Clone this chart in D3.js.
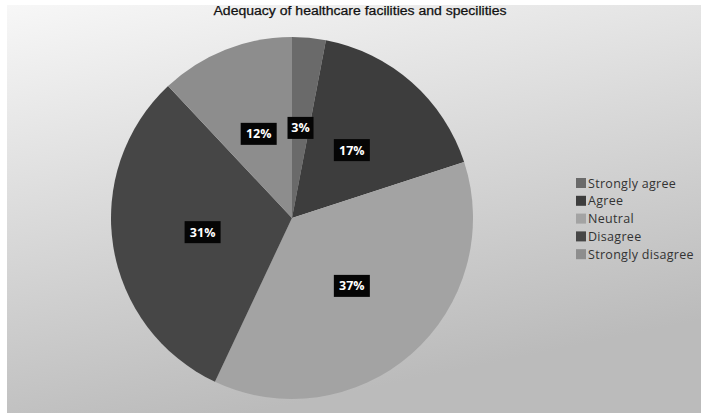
<!DOCTYPE html>
<html>
<head>
<meta charset="utf-8">
<script src="https://cdn.jsdelivr.net/npm/d3@7"></script>
<style>
  html, body { margin: 0; padding: 0; background: #ffffff; }
  svg { display: block; }
</style>
</head>
<body>
<svg id="chart" width="701" height="413"></svg>
<script>
// Survey responses: adequacy of healthcare facilities and specialities
const categories = ["Strongly agree", "Agree", "Neutral", "Disagree", "Strongly disagree"];
const values = [3, 17, 37, 31, 12];
const colors = ["#6a6a6a", "#3d3d3d", "#a3a3a3", "#464646", "#8d8d8d"];
const title = "Adequacy of healthcare facilities and specilities";

const W = 701, H = 413;
const svg = d3.select("#chart");

// Chart area background with soft diagonal gray gradient
const defs = svg.append("defs");
const grad = defs.append("linearGradient")
  .attr("id", "bg").attr("x1", "0").attr("y1", "0").attr("x2", "0.35").attr("y2", "1");
grad.append("stop").attr("offset", "0").attr("stop-color", "#f7f7f7");
grad.append("stop").attr("offset", "0.45").attr("stop-color", "#dcdcdc");
grad.append("stop").attr("offset", "1").attr("stop-color", "#bbbbbb");

svg.append("rect")
  .attr("x", 7).attr("y", 5).attr("width", W - 7).attr("height", H - 5)
  .attr("fill", "url(#bg)");

// Title
svg.append("text")
  .attr("x", 360).attr("y", 15)
  .attr("text-anchor", "middle")
  .attr("font-family", "Liberation Sans, Arial, sans-serif")
  .attr("font-size", 12)
  .attr("fill", "#111")
  .attr("stroke", "#111")
  .attr("stroke-width", 0.25)
  .attr("textLength", 293)
  .attr("lengthAdjust", "spacingAndGlyphs")
  .text(title);

// Pie
const cx = 292, cy = 218, R = 181;
const pie = d3.pie().value(d => d).sort(null);
const arcs = pie(values);
const arc = d3.arc().innerRadius(0).outerRadius(R);
const labelArc = d3.arc().innerRadius(R * 0.5).outerRadius(R * 0.5);

const g = svg.append("g").attr("transform", `translate(${cx},${cy})`);
g.selectAll("path.slice")
  .data(arcs)
  .join("path")
  .attr("class", "slice")
  .attr("d", arc)
  .attr("fill", (d, i) => colors[i]);

// Percentage labels on black boxes
const lab = g.selectAll("g.lab")
  .data(arcs)
  .join("g")
  .attr("class", "lab")
  .attr("transform", d => { const c = labelArc.centroid(d); return `translate(${c[0]},${c[1]})`; });

lab.append("rect")
  .attr("x", d => d.data >= 10 ? -18 : -13)
  .attr("y", -11)
  .attr("width", d => d.data >= 10 ? 36 : 26)
  .attr("height", 22)
  .attr("fill", "#050505");

lab.append("text")
  .attr("text-anchor", "middle")
  .attr("dy", "0.36em")
  .attr("font-family", "Open Sans, DejaVu Sans, sans-serif")
  .attr("font-weight", "bold")
  .attr("font-size", 12.5)
  .attr("fill", "#ffffff")
  .text(d => d.data + "%");

// Legend
const legend = svg.append("g").attr("transform", "translate(576,178)");
const item = legend.selectAll("g")
  .data(categories)
  .join("g")
  .attr("transform", (d, i) => `translate(0,${i * 17.8})`);
item.append("rect")
  .attr("width", 10).attr("height", 10)
  .attr("fill", (d, i) => colors[i]);
item.append("text")
  .attr("x", 12).attr("y", 9.5)
  .attr("font-family", "Open Sans, DejaVu Sans, sans-serif")
  .attr("font-size", 12.5)
  .attr("letter-spacing", 0.3)
  .attr("fill", "#333")
  .text(d => d);
</script>
</body>
</html>
